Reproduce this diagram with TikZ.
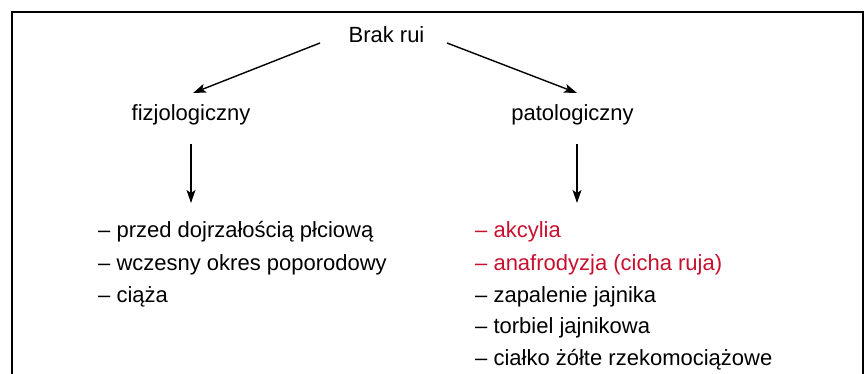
\documentclass[tikz,border=0pt]{standalone}
\usepackage{fontspec}
\setmainfont{Liberation Sans}
\usetikzlibrary{arrows.meta}
\definecolor{rubra}{RGB}{200,16,46}
\begin{document}
\begin{tikzpicture}[x=1pt,y=-1pt,
  lbl/.style={inner sep=0pt,font=\fontsize{22}{32}\selectfont},
  redlbl/.style={lbl,text=rubra},
  arr/.style={line width=1.4pt,-{Stealth[length=13pt,width=9pt,inset=3pt]}},
  frame/.style={line width=1.6pt}]
\useasboundingbox (0,0) rectangle (864,374);
\draw[frame] (12,374) -- (12,12) -- (863,12) -- (863,374);
\node[lbl,anchor=base] (brak) at (386.5,43) {Brak rui};
\node[lbl,anchor=base] (fiz) at (191,121) {fizjologiczny};
\node[lbl,anchor=base] (pat) at (572.5,121) {patologiczny};
\node[lbl,anchor=base west] (l1) at (98,237) {– przed dojrzałością płciową};
\node[lbl,anchor=base west] (l2) at (98,270) {– wczesny okres poporodowy};
\node[lbl,anchor=base west] (l3) at (98,302) {– ciąża};
\node[redlbl,anchor=base west] (r1) at (475,237) {– akcylia};
\node[redlbl,anchor=base west] (r2) at (475,270) {– anafrodyzja (cicha ruja)};
\node[lbl,anchor=base west] (r3) at (475,302) {– zapalenie jajnika};
\node[lbl,anchor=base west] (r4) at (475,333) {– torbiel jajnikowa};
\node[lbl,anchor=base west] (r5) at (475,365) {– ciałko żółte rzekomociążowe};
\coordinate (bL) at (320,43);
\coordinate (bR) at (447,43);
\coordinate (fizIn) at (193,93);
\coordinate (patIn) at (577,93);
\coordinate (fizOut) at (191,144);
\coordinate (patOut) at (577,144);
\coordinate (lIn) at (191,203);
\coordinate (rIn) at (577,203);
\draw[arr] (bL) -- (fizIn);
\draw[arr] (bR) -- (patIn);
\draw[arr] (fizOut) -- (lIn);
\draw[arr] (patOut) -- (rIn);
\end{tikzpicture}
\end{document}
